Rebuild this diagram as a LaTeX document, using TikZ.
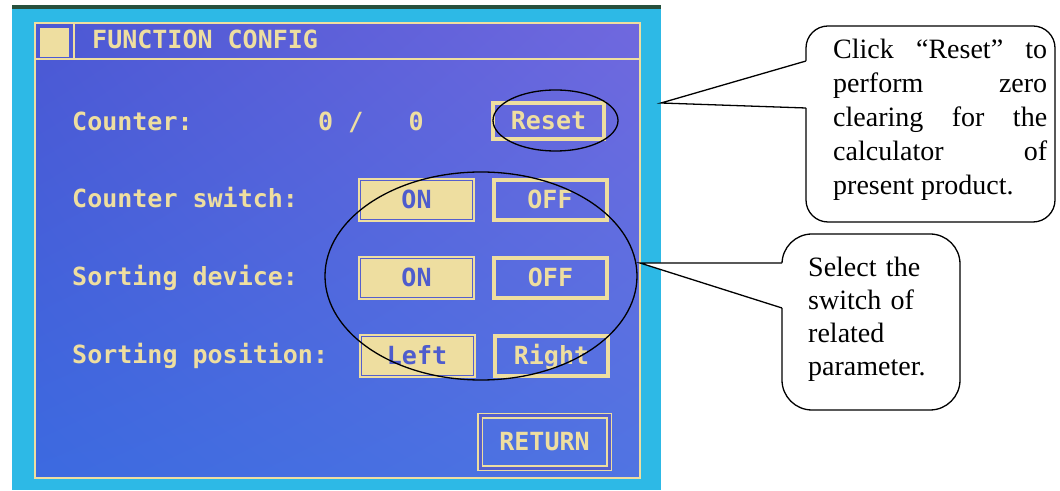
\documentclass[tikz,border=0pt]{standalone}
\usepackage{fontspec}
\setmainfont{Liberation Serif}
\newfontfamily\lcdfont{DejaVu Sans Mono}
\usetikzlibrary{calc,shadings}

\begin{document}
\begin{tikzpicture}[x=1pt,y=1pt,
  lcdtext/.style={font=\lcdfont\bfseries\fontsize{25}{25}\selectfont,text=ccream,inner sep=0pt},
  onbtn/.style={lcdtext,text=cblue,fill=ccream,draw=ccream,line width=2pt,double=cgap,double distance=1pt,minimum width=112pt,minimum height=39pt,text height=18pt,text depth=0pt},
  offbtn/.style={lcdtext,draw=ccream,line width=4pt,minimum width=113pt,minimum height=40pt,text height=18pt,text depth=0pt},
  returnbtn/.style={lcdtext,draw=ccream,line width=1.5pt,double=cgap,double distance=3pt,minimum width=129pt,minimum height=52pt,text height=18pt,text depth=0pt},
  ringmark/.style={draw=black,line width=1.3pt},
  notebox/.style={draw=black,line width=1.3pt,fill=white,inner sep=0pt},
  notelink/.style={draw=black,line width=1.3pt},
  notetext/.style={font=\fontsize{28}{33}\selectfont,inner sep=0pt}]
\definecolor{cbezel}{RGB}{45,185,230}
\definecolor{cedge}{RGB}{40,80,60}
\definecolor{cpanelul}{RGB}{76,88,212}
\definecolor{cpanelur}{RGB}{112,104,222}
\definecolor{cpanelll}{RGB}{60,106,224}
\definecolor{cpanellr}{RGB}{80,116,226}
\definecolor{ccream}{RGB}{238,222,160}
\definecolor{cblue}{RGB}{78,92,205}
\definecolor{cgap}{RGB}{85,95,205}
%
\useasboundingbox (0,0) rectangle (1060,490);
\fill[cbezel] (12,0) rectangle (661,485);
\fill[cedge] (12,481) rectangle (661,485);
\shade[upper left=cpanelul,upper right=cpanelur,lower left=cpanelll,lower right=cpanellr] (35,12) rectangle (640,467);
\draw[ccream,line width=2pt] (35,12) rectangle (640,467);
\draw[ccream,line width=2pt] (35,431) -- (640,431);
\draw[ccream,line width=2pt] (74,467) -- (74,431);
\fill[ccream] (40,433) rectangle (69,462);
%
\node[lcdtext,anchor=base west] (title) at (92,441) {FUNCTION CONFIG};
\node[lcdtext,anchor=base west] (counter) at (72,359) {Counter:};
\node[lcdtext,anchor=base west] (count) at (318,359) {0~/~~~0};
\node[lcdtext,anchor=base west] (cswitch) at (72,282) {Counter switch:};
\node[lcdtext,anchor=base west] (sdevice) at (72,204) {Sorting device:};
\node[lcdtext,anchor=base west] (sposition) at (72,126) {Sorting position:};
%
\node[offbtn,minimum width=111pt,minimum height=36pt] (reset) at (548.5,369) {Reset};
\node[onbtn] (cswitchon) at (416.5,290) {ON};
\node[offbtn] (cswitchoff) at (550,290) {OFF};
\node[onbtn] (sdeviceon) at (416.5,212) {ON};
\node[offbtn] (sdeviceoff) at (550.5,212) {OFF};
\node[onbtn] (spositionleft) at (417,134) {Left};
\node[offbtn] (spositionright) at (551.5,134) {Right};
\node[returnbtn] (return) at (544.5,48) {RETURN};
%
\draw[ringmark] (555.5,369.5) ellipse [x radius=62.5,y radius=30.5];
\draw[ringmark] (481,214) ellipse [x radius=156,y radius=104];
%
\node[notebox,rounded corners=22pt,minimum width=249pt,minimum height=196pt] (resetbox) at (930.5,366) {};
\coordinate (resettip) at (661,387);
\coordinate (resettop) at (806,429);
\coordinate (resetlow) at (806,382);
\fill[white] (resettip) -- (resettop) -- ($(resettop)+(2,0)$) -- ($(resetlow)+(2,0)$) -- (resetlow) -- cycle;
\draw[notelink] (resettop) -- (resettip) -- (resetlow);
\node[notetext,font=\fontsize{28}{34}\selectfont,text width=214pt,align=justify,anchor=base west] (resettext) at (833,431) {Click “Reset” to\linebreak perform zero\linebreak clearing for the\linebreak calculator of\linebreak present product.};
%
\node[notebox,rounded corners=30pt,minimum width=178pt,minimum height=176pt] (switchbox) at (871,168) {};
\coordinate (switchtip) at (640,227);
\coordinate (switchtop) at (782,227);
\coordinate (switchlow) at (782,182);
\fill[white] (switchtip) -- (switchtop) -- ($(switchtop)+(2,0)$) -- ($(switchlow)+(2,0)$) -- (switchlow) -- cycle;
\draw[notelink] (switchtop) -- (switchtip) -- (switchlow);
\node[notetext,text width=140pt,align=left,anchor=base west] (switchtext) at (808,213) {Select the\\switch of\\related\\parameter.};
%
\end{tikzpicture}
\end{document}
